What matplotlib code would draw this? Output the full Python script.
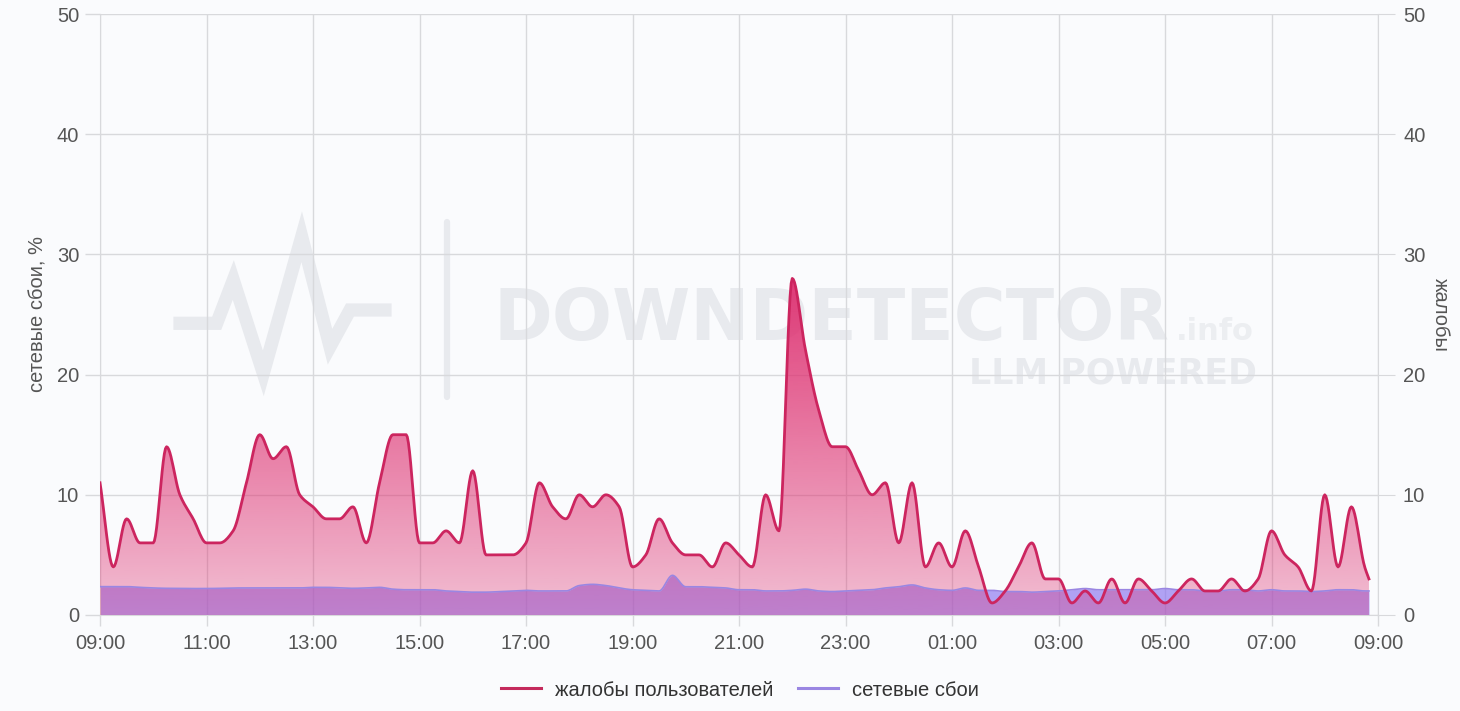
import numpy as np
import matplotlib
matplotlib.use("Agg")
import matplotlib.pyplot as plt
from matplotlib.patches import PathPatch
from matplotlib.path import Path
from matplotlib.lines import Line2D

plt.rcParams['font.family'] = ['Liberation Sans', 'DejaVu Sans']

# hours since 09:00, one sample every 15 min, last one at ~08:50
hours = np.append(np.arange(96) * 0.25, 23.83)

complaints = [11, 4, 8, 6, 6, 14, 10, 8, 6, 6, 7, 11,
              15, 13, 14, 10, 9, 8, 8, 9, 6, 11, 15, 15,
              6, 6, 7, 6, 12, 5, 5, 5, 6, 11, 9, 8,
              10, 9, 10, 9, 4, 5, 8, 6, 5, 5, 4, 6,
              5, 4, 10, 7, 28, 22, 17, 14, 14, 12, 10, 11,
              6, 11, 4, 6, 4, 7, 4, 1, 2, 4, 6, 3,
              3, 1, 2, 1, 3, 1, 3, 2, 1, 2, 3, 2,
              2, 3, 2, 3, 7, 5, 4, 2, 10, 4, 9, 4, 3]

outages = [2.36, 2.36, 2.36, 2.3, 2.25, 2.22, 2.22, 2.2, 2.2, 2.22, 2.25, 2.25,
           2.25, 2.25, 2.25, 2.25, 2.3, 2.3, 2.25, 2.22, 2.25, 2.3, 2.15, 2.1,
           2.1, 2.1, 2.0, 1.95, 1.9, 1.9, 1.95, 2.0, 2.05, 2.0, 2.0, 2.0,
           2.45, 2.55, 2.45, 2.25, 2.1, 2.05, 2.0, 3.3, 2.35, 2.35, 2.3, 2.25,
           2.1, 2.1, 2.0, 2.0, 2.05, 2.15, 2.0, 1.95, 2.0, 2.05, 2.1, 2.25,
           2.35, 2.5, 2.25, 2.1, 2.05, 2.25, 2.05, 2.05, 1.95, 1.95, 1.9, 1.95,
           2.0, 2.1, 2.2, 2.1, 2.1, 2.1, 2.1, 2.1, 2.2, 2.1, 2.1, 2.0,
           2.0, 2.1, 2.1, 2.0, 2.1, 2.0, 2.0, 1.95, 2.0, 2.1, 2.1, 2.0, 2.0]

xtick_labels = ['09:00', '11:00', '13:00', '15:00', '17:00', '19:00', '21:00',
                '23:00', '01:00', '03:00', '05:00', '07:00', '09:00']
yticks = [0, 10, 20, 30, 40, 50]


def monotone(x, y, n=12):
    # Fritsch-Carlson monotone cubic, like the smooth lines of the site
    x = np.asarray(x, float)
    y = np.asarray(y, float)
    h = np.diff(x)
    d = np.diff(y) / h
    m = np.zeros_like(y)
    m[0], m[-1] = d[0], d[-1]
    for i in range(1, len(y) - 1):
        if d[i - 1] * d[i] <= 0:
            m[i] = 0
        else:
            w1 = 2 * h[i] + h[i - 1]
            w2 = h[i] + 2 * h[i - 1]
            m[i] = (w1 + w2) / (w1 / d[i - 1] + w2 / d[i])
    xs, ys = [], []
    for i in range(len(x) - 1):
        t = np.linspace(0, 1, n, endpoint=False)
        h00 = 2 * t**3 - 3 * t**2 + 1
        h10 = t**3 - 2 * t**2 + t
        h01 = -2 * t**3 + 3 * t**2
        h11 = t**3 - t**2
        xs.append(x[i] + t * h[i])
        ys.append(h00 * y[i] + h10 * h[i] * m[i] + h01 * y[i + 1] + h11 * h[i] * m[i + 1])
    xs.append([x[-1]])
    ys.append([y[-1]])
    return np.concatenate(xs), np.concatenate(ys)


bg = '#fafbfd'
grid_c = '#d8d9dc'
text_c = '#555555'
pink = '#cc255f'
lav_line = '#9a86e2'

fig = plt.figure(figsize=(14.6, 7.11), dpi=100, facecolor=bg)
ax = fig.add_axes([100 / 1460, 96 / 711, 1278 / 1460, 601 / 711])
ax.set_facecolor(bg)

# watermark
wm = '#e8eaee'
def fx(px):
    return (px - 100) / 1278
def fy(py):
    return (615 - py) / 601
logo_x = [180, 216.7, 233.3, 263.3, 301.7, 330, 350, 385]
logo_y = [323.3, 323.3, 280, 373.3, 236.7, 346.7, 310, 310]
ax.plot([fx(v) for v in logo_x], [fy(v) for v in logo_y], transform=ax.transAxes,
        color=wm, lw=9.5, solid_joinstyle='miter', zorder=0.2)
ax.plot([fx(447), fx(447)], [fy(222), fy(397)], transform=ax.transAxes,
        color=wm, lw=4.5, solid_capstyle='round', zorder=0.2)
ax.text(fx(493), fy(340), 'DOWNDETECTOR', transform=ax.transAxes, fontsize=51,
        fontweight='bold', color=wm, family='DejaVu Sans', ha='left', va='baseline', zorder=0.2)
ax.text(fx(1176), fy(340), '.info', transform=ax.transAxes, fontsize=22,
        fontweight='bold', color='#eceef1', family='DejaVu Sans', ha='left', va='baseline', zorder=0.2)
ax.text(fx(1257), fy(383), 'LLM POWERED', transform=ax.transAxes, fontsize=25,
        fontweight='bold', color=wm, family='DejaVu Sans', ha='right', va='baseline', zorder=0.2)

# network outages (lavender area)
ox, oy = monotone(hours, outages)
ax.fill_between(ox, 0, oy, color='#8a74f0', alpha=0.66, lw=0, zorder=2)

# complaints, gradient area
cx, cy = monotone(hours, complaints)
cy = np.clip(cy, 0, None)
verts = np.column_stack([np.concatenate([cx, cx[::-1]]),
                         np.concatenate([cy, np.zeros_like(cy)])])
clip = PathPatch(Path(verts), transform=ax.transData, facecolor='none', edgecolor='none')
ax.add_patch(clip)
top = max(complaints)
alpha = np.linspace(0.30, 0.95, 256)
grad = np.zeros((256, 1, 4))
grad[:, 0, 0] = 222 / 255
grad[:, 0, 1] = 48 / 255
grad[:, 0, 2] = 112 / 255
grad[:, 0, 3] = alpha
im = ax.imshow(grad, extent=[0, 24, 0, top], origin='lower', aspect='auto', zorder=3)
im.set_clip_path(clip)

ax.plot(ox, oy, color=lav_line, lw=1.2, zorder=4)
ax.plot(cx, cy, color=pink, lw=2.0, zorder=5)

ax.set_xlim(0, 24)
ax.set_ylim(0, 50)
ax.set_xticks(np.arange(0, 25, 2))
ax.set_xticklabels(xtick_labels)
ax.set_yticks(yticks)
ax.set_axisbelow(True)
ax.grid(True, color=grid_c, lw=1)
ax.tick_params(axis='both', colors=grid_c, labelcolor=text_c, labelsize=14.5, width=1)
ax.tick_params(axis='y', length=11, pad=4)
ax.tick_params(axis='x', length=8, pad=6)
for s in ['top', 'right']:
    ax.spines[s].set_visible(False)
for s in ['left', 'bottom']:
    ax.spines[s].set_color(grid_c)
ax.set_ylabel('сетевые сбои, %', fontsize=14.5, color=text_c, labelpad=7)

ax2 = ax.twinx()
ax2.set_ylim(0, 50)
ax2.set_yticks(yticks)
ax2.tick_params(axis='y', colors=grid_c, labelcolor=text_c, labelsize=14.5, length=12, pad=6)
for s in ['top', 'left', 'bottom']:
    ax2.spines[s].set_visible(False)
ax2.spines['right'].set_color(grid_c)
ax2.set_ylabel('жалобы', fontsize=14.5, color=text_c, rotation=270, labelpad=18)

handles = [Line2D([], [], color='#c42a5c', lw=2.2),
           Line2D([], [], color=lav_line, lw=2.2)]
fig.legend(handles, ['жалобы пользователей', 'сетевые сбои'], loc='center',
           bbox_to_anchor=(740 / 1460, 1 - 690 / 711), ncol=2, frameon=False,
           fontsize=14.5, handlelength=2.0, columnspacing=1.2, handletextpad=0.7,
           labelcolor='#333333')

fig.savefig('out.png', dpi=100, facecolor=bg)
